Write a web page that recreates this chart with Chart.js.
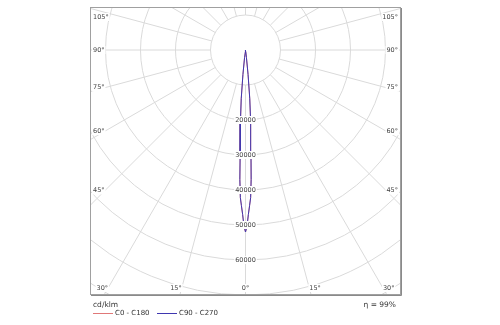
<!DOCTYPE html>
<html>
<head>
<meta charset="utf-8">
<script src="https://cdn.jsdelivr.net/npm/chart.js@4/dist/chart.umd.min.js"></script>
<style>
  html, body { margin: 0; padding: 0; background: #fff; }
  canvas { display: block; }
</style>
</head>
<body>
<canvas id="polar" width="500" height="325"></canvas>
<script>
// gamma angles (deg) and luminous intensity (cd/klm)
const gammaDeg = [0, 0.5, 1, 1.5, 2, 2.5, 3, 3.5, 4, 5, 6, 7, 8, 9, 15, 30, 60, 90, 120, 150, 180];
const c0c180 = [52000, 50300, 47000, 44500, 42200, 37000, 30000, 24500, 20800, 14000, 7000, 2200, 400, 0, 0, 0, 0, 0, 0, 0, 0];
const c90c270 = [52000, 50300, 47000, 44500, 42200, 37000, 30000, 24500, 20800, 14000, 7000, 2200, 400, 0, 0, 0, 0, 0, 0, 0, 0];

const ringTicks = [20000, 30000, 40000, 50000, 60000];
const angleTicks = [0, 15, 30, 45, 60, 75, 90, 105];
const seriesLabels = ['C0 - C180', 'C90 - C270'];
const seriesColors = ['#e07878', '#3f37b0'];
const unitLabel = 'cd/klm';
const etaLabel = 'η = 99%';

const FONT = "'DejaVu Sans', sans-serif";

// polar curve -> x/y points, left half (C180 / C270) then right half (C0 / C90)
function toPoints(values) {
  const pts = [];
  for (let i = gammaDeg.length - 1; i >= 0; i--) {
    const a = gammaDeg[i] * Math.PI / 180;
    pts.push({ x: -values[i] * Math.sin(a), y: -values[i] * Math.cos(a) });
  }
  for (let i = 1; i < gammaDeg.length; i++) {
    const a = gammaDeg[i] * Math.PI / 180;
    pts.push({ x: values[i] * Math.sin(a), y: -values[i] * Math.cos(a) });
  }
  return pts;
}

const polarGrid = {
  id: 'polarGrid',
  beforeDatasetsDraw(chart) {
    const { ctx, chartArea: area, scales } = chart;
    const cx = scales.x.getPixelForValue(0);
    const cy = scales.y.getPixelForValue(0);
    const k = (scales.x.getPixelForValue(10000) - cx) / 10000;

    ctx.save();
    ctx.beginPath();
    ctx.rect(area.left, area.top, area.right - area.left, area.bottom - area.top);
    ctx.clip();
    ctx.strokeStyle = '#dadada';
    ctx.lineWidth = 1;
    for (let r = 10000; r <= 90000; r += 10000) {
      ctx.beginPath();
      ctx.arc(cx, cy, r * k, 0, Math.PI * 2);
      ctx.stroke();
    }
    for (let g = 0; g < 360; g += 15) {
      const a = g * Math.PI / 180;
      ctx.beginPath();
      ctx.moveTo(cx + Math.sin(a) * 10000 * k, cy + Math.cos(a) * 10000 * k);
      ctx.lineTo(cx + Math.sin(a) * 100000 * k, cy + Math.cos(a) * 100000 * k);
      ctx.stroke();
    }
    ctx.restore();
  },
  afterDatasetsDraw(chart) {
    const { ctx, chartArea: area, scales } = chart;
    const cx = scales.x.getPixelForValue(0);
    const cy = scales.y.getPixelForValue(0);
    const k = (scales.x.getPixelForValue(10000) - cx) / 10000;

    function label(text, x, y, align) {
      ctx.font = '6.5px ' + FONT;
      const w = ctx.measureText(text).width;
      let x0 = x - w / 2;
      if (align === 'left') x0 = x;
      if (align === 'right') x0 = x - w;
      ctx.fillStyle = '#fff';
      ctx.fillRect(x0 - 1, y - 4, w + 2, 8);
      ctx.fillStyle = '#444';
      ctx.textAlign = 'left';
      ctx.textBaseline = 'middle';
      ctx.fillText(text, x0, y);
    }

    ctx.save();
    ringTicks.forEach(r => label(String(r), cx, cy + r * k, 'center'));

    // angle labels where the rays meet an inset of the frame
    const inL = area.left + 15, inR = area.right - 15, inB = area.bottom - 7;
    angleTicks.forEach(g => {
      const a = g * Math.PI / 180;
      const sides = g === 0 ? [1] : [-1, 1];
      sides.forEach(s => {
        const sx = Math.sin(a), cyv = Math.cos(a);
        const tSide = sx > 1e-6 ? (s > 0 ? inR - cx : cx - inL) / sx : Infinity;
        const tBot = cyv > 1e-6 ? (inB - cy) / cyv : Infinity;
        const text = g + '°';
        if (tBot <= tSide) {
          const x = cx + s * sx * tBot;
          label(text, x, inB, g === 0 ? 'center' : (s < 0 ? 'right' : 'left'));
        } else {
          const y = Math.max(area.top + 10, Math.min(inB, cy + cyv * tSide));
          if (s < 0) label(text, area.left + 3, y, 'left');
          else label(text, area.right - 3, y, 'right');
        }
      });
    });

    // frame
    ctx.strokeStyle = '#a0a0a0';
    ctx.lineWidth = 1;
    ctx.strokeRect(area.left + 0.5, area.top + 0.5, area.right - area.left - 1, area.bottom - area.top - 1);
    ctx.strokeStyle = '#8a8a8a';
    ctx.beginPath();
    ctx.moveTo(area.left + 1, area.bottom + 0.5);
    ctx.lineTo(area.right + 0.5, area.bottom + 0.5);
    ctx.lineTo(area.right + 0.5, area.top + 1);
    ctx.stroke();

    // unit, legend, efficiency
    ctx.fillStyle = '#333';
    ctx.textBaseline = 'middle';
    ctx.textAlign = 'left';
    ctx.font = '7.5px ' + FONT;
    ctx.fillText(unitLabel, area.left + 3, 305);
    let lx = area.left + 3;
    seriesLabels.forEach((text, i) => {
      ctx.strokeStyle = seriesColors[i];
      ctx.lineWidth = 1;
      ctx.beginPath();
      ctx.moveTo(lx, 313.5);
      ctx.lineTo(lx + 20, 313.5);
      ctx.stroke();
      ctx.font = '7px ' + FONT;
      ctx.fillStyle = '#333';
      ctx.fillText(text, lx + 22, 313.5);
      lx += 64;
    });
    ctx.textAlign = 'right';
    ctx.font = '7.5px ' + FONT;
    ctx.fillText(etaLabel, area.right - 5, 305);
    ctx.restore();
  }
};

const halfX = 311 / 2 / 35 * 10000;

new Chart(document.getElementById('polar'), {
  type: 'scatter',
  data: {
    datasets: [
      {
        label: seriesLabels[0],
        data: toPoints(c0c180),
        borderColor: seriesColors[0],
        borderWidth: 1,
        showLine: true,
        pointRadius: 0,
        tension: 0,
        order: 1
      },
      {
        label: seriesLabels[1],
        data: toPoints(c90c270),
        borderColor: seriesColors[1],
        borderWidth: 1,
        showLine: true,
        pointRadius: 0,
        tension: 0,
        order: 0
      }
    ]
  },
  options: {
    responsive: false,
    animation: false,
    devicePixelRatio: 1,
    layout: { padding: { left: 90, right: 99, top: 7, bottom: 30 } },
    plugins: { legend: { display: false }, tooltip: { enabled: false } },
    scales: {
      x: { type: 'linear', min: -halfX, max: halfX, display: false },
      y: { type: 'linear', min: -70000, max: 43 / 35 * 10000, display: false }
    }
  },
  plugins: [polarGrid]
});
</script>
</body>
</html>
